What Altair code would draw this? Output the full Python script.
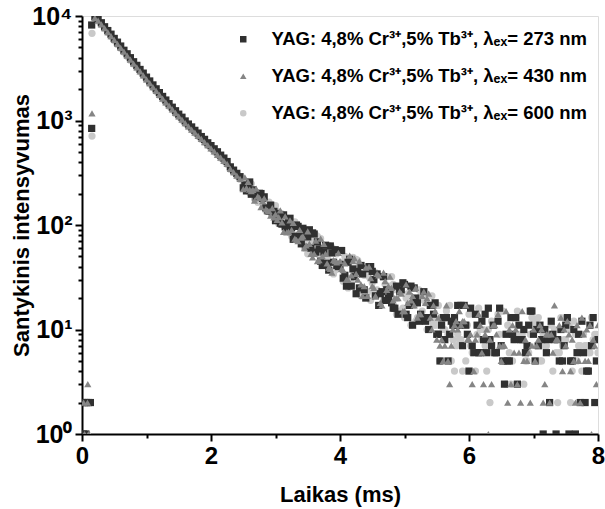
import altair as alt
import numpy as np
import pandas as pd

# series names (legend labels)
S1 = "YAG: 4,8% Cr\u00b3\u207a,5% Tb\u00b3\u207a, \u03bb\u2091\u2093= 273 nm"
S2 = "YAG: 4,8% Cr\u00b3\u207a,5% Tb\u00b3\u207a, \u03bb\u2091\u2093= 430 nm"
S3 = "YAG: 4,8% Cr\u00b3\u207a,5% Tb\u00b3\u207a, \u03bb\u2091\u2093= 600 nm"

# time sampling (ms)
t_head = np.round(np.arange(0.20, 2.49, 0.05), 3)      # 46 samples
t_tail = np.round(np.arange(2.50, 8.001, 0.025), 3)    # 221 samples

# early (pre-pulse / rise) points
sq_early_t = [0.01, 0.04, 0.07, 0.10, 0.13, 0.02, 0.06, 0.15, 0.15]
sq_early_v = [2, 2, 2, 2, 2, 1, 1, 8200, 840]
tr_early_t = [0.025, 0.085, 0.04, 0.10, 0.09, 0.155]
tr_early_v = [2, 2, 1, 1, 3, 1170]
ci_early_t = [0.08, 0.155, 0.155]
ci_early_v = [1, 6830, 710]

# main decay, 0.20-2.45 ms
sq_head = [9850, 9300, 8620, 7890, 7260, 6700, 6100, 5620, 5160, 4700, 4350, 3990,
           3650, 3370, 3080, 2840, 2600, 2390, 2190, 2010, 1850, 1700, 1570, 1450,
           1340, 1240, 1150, 1075, 990, 925, 868, 805, 758, 702, 660, 612, 575, 536,
           502, 466, 437, 405, 360, 335, 312, 290]
tr_head = [9600, 9050, 8330, 7650, 7000, 6430, 5900, 5400, 4960, 4550, 4170, 3820,
           3510, 3220, 2950, 2710, 2480, 2280, 2090, 1920, 1760, 1620, 1490, 1385,
           1275, 1180, 1095, 1018, 944, 880, 820, 767, 713, 668, 622, 580, 542, 506,
           470, 441, 410, 384, 345, 320, 297, 276]
ci_head = [9500, 8950, 8250, 7560, 6940, 6360, 5840, 5350, 4910, 4500, 4130, 3780,
           3480, 3180, 2930, 2690, 2460, 2250, 2070, 1900, 1745, 1605, 1480, 1370,
           1265, 1165, 1088, 1010, 936, 873, 815, 760, 709, 662, 618, 577, 539, 502,
           469, 437, 409, 381, 342, 318, 295, 274]

# noisy tail, 2.500-8.000 ms (step 0.025)
sq_tail = [227, 242, 212, 234, 258, 197, 217, 202, 183, 188, 201, 200, 180, 186, 146, 137, 136, 155, 131, 135,
           110, 129, 113, 104, 102, 125, 96, 89, 109, 116, 94, 73, 78, 100, 97, 78, 66, 93, 83, 61,
           77, 90, 60, 84, 82, 55, 69, 59, 45, 41, 55, 64, 43, 37, 63, 54, 44, 58, 41, 40,
           42, 57, 31, 33, 26, 44, 47, 26, 38, 32, 22, 36, 25, 41, 34, 24, 20, 38, 40, 40,
           36, 30, 21, 34, 17, 22, 23, 32, 19, 24, 20, 22, 18, 16, 16, 26, 14, 23, 24, 28,
           27, 14, 13, 17, 26, 11, 25, 20, 18, 12, 14, 13, 23, 12, 13, 10, 17, 17, 14, 18,
           9, 9, 5, 11, 13, 8, 13, 5, 9, 12, 11, 13, 11, 17, 11, 17, 7, 17, 11, 9,
           4, 16, 7, 6, 14, 11, 6, 6, 12, 8, 14, 6, 16, 8, 7, 11, 6, 6, 12, 16,
           7, 5, 3, 9, 5, 5, 13, 9, 8, 13, 3, 11, 8, 8, 10, 6, 7, 11, 15, 15,
           9, 5, 10, 7, 11, 8, 1, 10, 6, 8, 2, 12, 9, 8, 1, 8, 5, 10, 5, 7,
           11, 13, 1, 5, 5, 10, 1, 6, 9, 2, 12, 6, 2, 4, 4, 11, 7, 13, 2, 5, 8]
tr_tail = [220, 286, 226, 258, 218, 211, 217, 171, 223, 188, 182, 148, 169, 180, 142, 137, 136, 123, 145, 118,
           127, 112, 119, 138, 106, 86, 121, 85, 86, 111, 90, 105, 74, 72, 70, 90, 76, 78, 60, 64,
           87, 66, 53, 49, 53, 71, 45, 46, 74, 50, 66, 53, 43, 39, 38, 35, 46, 45, 44, 54,
           45, 38, 37, 43, 30, 30, 51, 33, 45, 48, 34, 30, 45, 27, 21, 26, 39, 21, 40, 31,
           26, 25, 21, 34, 33, 18, 17, 35, 29, 24, 26, 32, 25, 19, 20, 20, 20, 23, 22, 15,
           15, 27, 18, 23, 19, 21, 17, 25, 13, 14, 14, 21, 23, 18, 20, 22, 13, 10, 17, 15,
           8, 13, 7, 8, 5, 7, 17, 5, 3, 7, 10, 11, 12, 10, 15, 11, 12, 12, 17, 8,
           8, 9, 3, 4, 8, 9, 14, 11, 6, 3, 9, 10, 1, 8, 3, 11, 11, 9, 14, 7,
           5, 7, 7, 15, 2, 10, 3, 11, 6, 10, 3, 6, 2, 15, 5, 8, 5, 6, 2, 7,
           10, 5, 7, 8, 11, 10, 2, 3, 9, 9, 2, 9, 6, 17, 8, 8, 11, 13, 4, 10,
           7, 12, 9, 4, 8, 5, 2, 11, 5, 2, 13, 9, 5, 10, 5, 11, 1, 8, 7, 3, 11]
ci_tail = [259, 234, 242, 242, 204, 248, 210, 177, 189, 165, 188, 169, 186, 152, 142, 142, 166, 150, 154, 144,
           153, 135, 103, 104, 128, 99, 96, 98, 104, 84, 78, 100, 107, 72, 81, 94, 92, 68, 60, 74,
           53, 55, 68, 75, 57, 80, 78, 52, 74, 60, 51, 50, 49, 64, 55, 61, 34, 37, 53, 42,
           38, 44, 29, 50, 45, 25, 31, 28, 49, 35, 47, 46, 41, 21, 24, 33, 39, 23, 32, 19,
           28, 22, 35, 24, 22, 17, 32, 19, 27, 32, 26, 22, 32, 27, 24, 14, 25, 15, 15, 16,
           13, 20, 22, 26, 11, 25, 17, 12, 13, 24, 21, 15, 19, 18, 10, 13, 12, 21, 11, 12,
           11, 17, 5, 12, 10, 10, 15, 9, 17, 5, 8, 4, 7, 9, 8, 8, 4, 11, 5, 11,
           14, 7, 6, 14, 4, 9, 16, 10, 8, 10, 7, 4, 10, 2, 12, 6, 6, 6, 14, 9,
           7, 15, 5, 3, 11, 6, 3, 5, 8, 13, 15, 9, 9, 9, 3, 5, 5, 6, 9, 13,
           11, 12, 7, 13, 5, 5, 9, 7, 7, 9, 9, 11, 4, 10, 6, 2, 6, 13, 7, 8,
           8, 10, 11, 2, 4, 12, 9, 5, 7, 7, 4, 9, 7, 7, 6, 6, 13, 8, 9, 9, 6]

# axis tick values
x_ticks = [0, 1, 2, 3, 4, 5, 6, 7, 8]
y_ticks = [m * d for d in [1, 10, 100, 1000] for m in range(1, 10)] + [10000]


def frame(name, t_early, v_early, t_h, v_h, t_t, v_t):
    t = list(t_early) + list(t_h) + list(t_t)
    v = list(v_early) + list(v_h) + list(v_t)
    return pd.DataFrame({"t": t, "v": v, "series": name})


df = pd.concat([
    frame(S3, ci_early_t, ci_early_v, t_head, ci_head, t_tail, ci_tail),
    frame(S1, sq_early_t, sq_early_v, t_head, sq_head, t_tail, sq_tail),
    frame(S2, tr_early_t, tr_early_v, t_head, tr_head, t_tail, tr_tail),
], ignore_index=True)

FONT = "Liberation Sans"
MAJOR_TEST = "indexof([1,10,100,1000,10000], datum.value) >= 0"
SUP = ("replace(replace(replace(replace(replace(format(log(datum.value)/LN10, '.0f'),"
       "'0','\u2070'),'1','\u00b9'),'2','\u00b2'),'3','\u00b3'),'4','\u2074')")

legend_cfg = dict(title=None, orient="none", legendX=152, legendY=14,
                  labelFont=FONT, labelFontSize=18.5, labelFontWeight="bold",
                  labelColor="black", labelLimit=0, symbolSize=42, rowPadding=18,
                  labelOffset=19, padding=0)

chart = alt.Chart(df).mark_point(filled=True, opacity=1, size=52, clip=True).encode(
    x=alt.X("t:Q", scale=alt.Scale(domain=[0, 8], nice=False, zero=False),
            axis=alt.Axis(
                values=x_ticks, title="Laikas (ms)",
                labelExpr="datum.value % 2 == 0 ? datum.value : ''",
                tickSize={"condition": {"test": "datum.value % 2 == 0", "value": 7}, "value": 4},
                tickWidth=2, tickColor="black", domainWidth=2, domainColor="black",
                labelFont=FONT, labelFontSize=24, labelFontWeight="bold", labelColor="black",
                labelPadding=3, labelFlush=False,
                titleFont=FONT, titleFontSize=22, titleFontWeight="bold", titleColor="black",
                titleY=60, titleBaseline="middle", grid=False)),
    y=alt.Y("v:Q", scale=alt.Scale(type="log", domain=[1, 10000], nice=False),
            axis=alt.Axis(
                values=y_ticks, title="Santykinis intensyvumas",
                labelExpr=MAJOR_TEST + " ? '10' + " + SUP + " : ''",
                tickSize={"condition": {"test": MAJOR_TEST, "value": 7}, "value": 4},
                tickWidth=2, tickColor="black", domainWidth=2, domainColor="black",
                labelFont=FONT, labelFontSize=25, labelFontWeight="bold", labelColor="black",
                labelPadding=3, labelFlush=False,
                titleFont=FONT, titleFontSize=22, titleFontWeight="bold", titleColor="black",
                titleX=-61, titleY=209, titleAngle=-90, titleAlign="center",
                titleBaseline="middle", grid=False)),
    shape=alt.Shape("series:N", scale=alt.Scale(domain=[S1, S2, S3],
                                                range=["square", "triangle-up", "circle"]),
                    legend=alt.Legend(**legend_cfg)),
    color=alt.Color("series:N", scale=alt.Scale(domain=[S1, S2, S3],
                                                range=["#303030", "#858585", "#c9c9c9"]),
                    legend=alt.Legend(**legend_cfg)),
).properties(
    width=516, height=418,
    autosize=alt.AutoSizeParams(type="none"),
    padding={"left": 82, "top": 16, "right": 7, "bottom": 75},
).configure_view(
    stroke="black", strokeWidth=1.5
).configure(background="white")

chart.save("out.html", embed_options={"renderer": "svg", "actions": False})
